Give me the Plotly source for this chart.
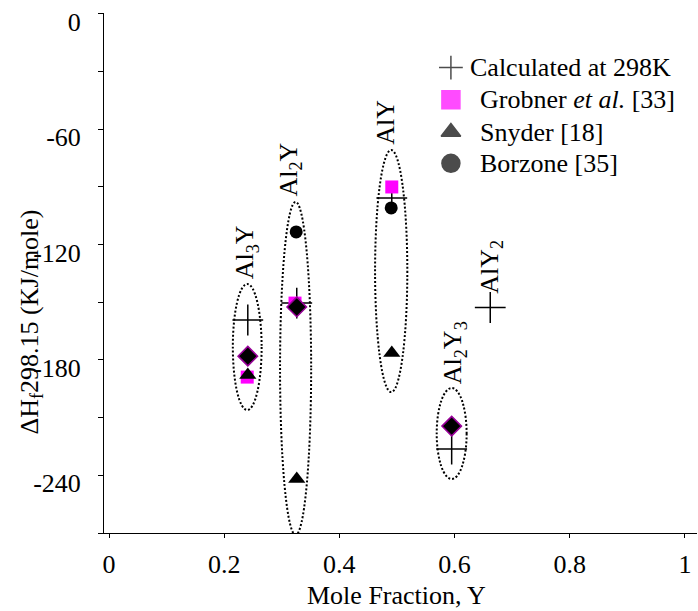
import plotly.graph_objects as go

FONT = "Liberation Serif, Times New Roman, serif"

# ---- data ----
compounds = ["Al<sub>3</sub>Y", "Al<sub>2</sub>Y", "AlY", "Al<sub>2</sub>Y<sub>3</sub>", "AlY<sub>2</sub>"]

calc_x = [0.241, 0.326, 0.491, 0.595, 0.662]
calc_y = [-159.2, -150.4, -95.7, -226.3, -152.7]

grobner_x = [0.240, 0.323, 0.491]
grobner_y = [-188.9, -150.4, -90.0]

snyder_x = [0.241, 0.326, 0.491]
snyder_y = [-187.8, -241.9, -176.4]

borzone_x = [0.325, 0.490]
borzone_y = [-113.4, -100.9]

overlap_x = [0.241, 0.326, 0.595]
overlap_y = [-178.0, -152.4, -214.4]

# grouping ellipses (x centre, half width, top, bottom) for the first four compounds
ell_x = [0.240, 0.324, 0.490, 0.595]
ell_hw = [0.025, 0.027, 0.028, 0.026]
ell_top = [-140.5, -97.8, -70.8, -194.6]
ell_bottom = [-206.0, -271.0, -196.7, -241.9]

x_ticks = [0, 0.2, 0.4, 0.6, 0.8, 1]
x_ticktext = ["0", "0.2", "0.4", "0.6", "0.8", "1"]
y_ticks = [0, -30, -60, -90, -120, -150, -180, -210, -240, -270]
y_ticktext = ["0", "", "-60", "", "-120", "", "-180", "", "-240", ""]

legend_names = ["Calculated at 298K", "Grobner <i>et al.</i> [33]", "Snyder [18]", "Borzone [35]"]

fig = go.Figure()

fig.add_trace(go.Scatter(x=calc_x, y=calc_y, mode="markers", name=legend_names[0],
                         showlegend=False,
                         marker=dict(symbol="cross-thin-open", size=22, color="black",
                                     line=dict(width=1.5, color="black"))))
fig.add_trace(go.Scatter(x=grobner_x, y=grobner_y, mode="markers", name=legend_names[1],
                         showlegend=False,
                         marker=dict(symbol="square", size=13, color="#FF00FF", line=dict(width=0))))
fig.add_trace(go.Scatter(x=snyder_x, y=snyder_y, mode="markers", name=legend_names[2],
                         showlegend=False,
                         marker=dict(symbol="triangle-up", size=15, color="black", line=dict(width=0))))
fig.add_trace(go.Scatter(x=borzone_x, y=borzone_y, mode="markers", name=legend_names[3],
                         showlegend=False,
                         marker=dict(symbol="circle", size=13, color="black", line=dict(width=0))))
fig.add_trace(go.Scatter(x=overlap_x, y=overlap_y, mode="markers", name="overlap",
                         showlegend=False,
                         marker=dict(symbol="diamond", size=15, color="black",
                                     line=dict(width=1.5, color="#990099"))))

# ---- hand-built legend (key symbols on an overlay axis in plot-fraction units) ----
key_x = 0.585
key_rows = [0.895, 0.833, 0.771, 0.711]
key_symbols = ["cross-thin-open", "square", "triangle-up", "circle"]
key_colors = ["black", "#FF00FF", "black", "black"]
key_sizes = [17, 18, 17, 18]
fig.add_trace(go.Scatter(x=[key_x] * 4, y=key_rows, mode="markers", xaxis="x2", yaxis="y2",
                         showlegend=False, hoverinfo="skip", cliponaxis=False,
                         marker=dict(symbol=key_symbols, size=key_sizes, color=key_colors,
                                     line=dict(width=1.5, color=key_colors))))
text_x = [0.614, 0.631, 0.631, 0.631]
for name, tx, ty in zip(legend_names, text_x, key_rows):
    fig.add_annotation(xref="x2", yref="y2", x=tx, y=ty, text=name, showarrow=False,
                       xanchor="left", yanchor="middle",
                       font=dict(family=FONT, size=26, color="black"))

# ellipses
for cx, hw, yt, yb in zip(ell_x, ell_hw, ell_top, ell_bottom):
    fig.add_shape(type="circle", xref="x", yref="y", x0=cx - hw, x1=cx + hw, y0=yb, y1=yt,
                  line=dict(color="black", width=2, dash="2px,2px"))

# compound labels (rotated), above the ellipses / the AlY2 cross
label_base = ell_top + [calc_y[4]]
label_x = ell_x + [calc_x[4]]
label_shift = [3, 3, 3, 2, 12]
label_xshift = [-1, -6, -6, 2, 0]
for name, lx, ly, sh, xs in zip(compounds, label_x, label_base, label_shift, label_xshift):
    fig.add_annotation(x=lx, y=ly, text=name, textangle=-90, showarrow=False,
                       xanchor="center", yanchor="bottom", yshift=sh, xshift=xs,
                       font=dict(family=FONT, size=26, color="black"))

# axis titles
fig.add_annotation(xref="paper", yref="paper", x=-0.123, y=0.405,
                   text="ΔH<sub>f</sub>298.15 (KJ/mole)", textangle=-90, showarrow=False,
                   xanchor="center", yanchor="middle", font=dict(family=FONT, size=26, color="black"))
fig.add_annotation(xref="paper", yref="paper", x=0.494, y=-0.12,
                   text="Mole Fraction, Y", showarrow=False,
                   xanchor="center", yanchor="middle", font=dict(family=FONT, size=26, color="black"))

fig.update_xaxes(range=[-0.0087, 1.021], tickmode="array", tickvals=x_ticks, ticktext=x_ticktext,
                 showgrid=False, zeroline=False, showline=True, linecolor="black", linewidth=1,
                 ticks="outside", ticklen=4, tickcolor="black", tickwidth=1,
                 ticklabelstandoff=4,
                 tickfont=dict(family=FONT, size=26, color="black"))
fig.update_yaxes(range=[-270, 0.5], tickmode="array", tickvals=y_ticks, ticktext=y_ticktext,
                 showgrid=False, zeroline=False, showline=True, linecolor="black", linewidth=1,
                 ticks="outside", ticklen=5, tickcolor="black", tickwidth=1,
                 ticklabelstandoff=12, ticklabelshift=8,
                 tickfont=dict(family=FONT, size=26, color="black"))

fig.update_layout(
    width=698, height=611,
    margin=dict(l=104, r=1, t=13, b=78),
    plot_bgcolor="white", paper_bgcolor="white",
    font=dict(family=FONT, size=26, color="black"),
    showlegend=False,
    xaxis2=dict(overlaying="x", range=[0, 1], visible=False, fixedrange=True),
    yaxis2=dict(overlaying="y", range=[0, 1], visible=False, fixedrange=True),
)

fig.write_html("out.html")
